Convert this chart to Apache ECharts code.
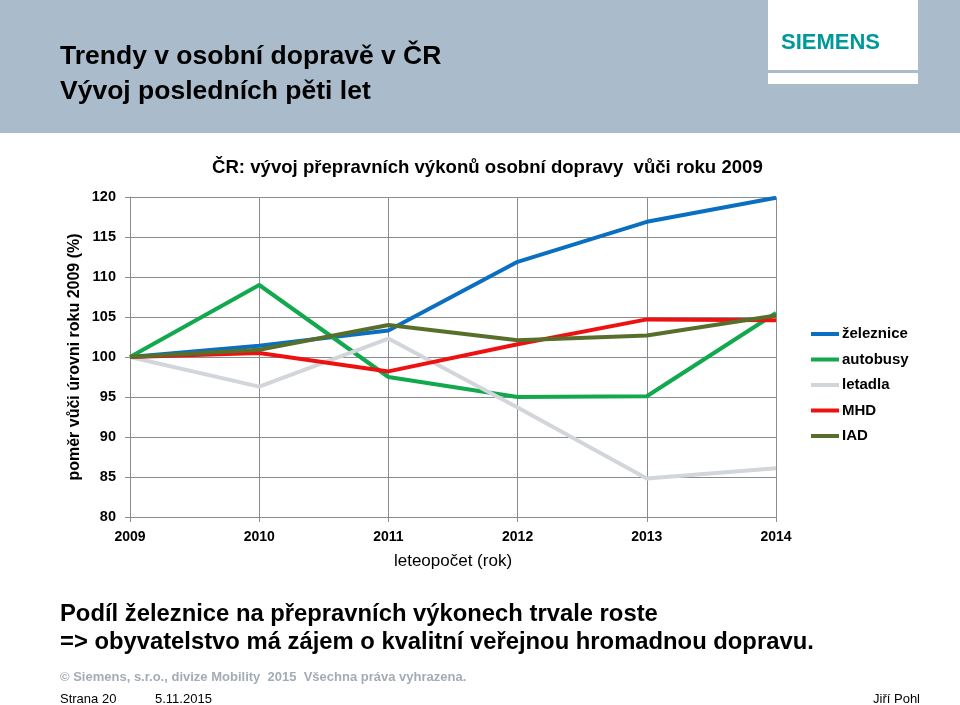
<!DOCTYPE html>
<html>
<head>
<meta charset="utf-8">
<script src="https://cdn.jsdelivr.net/npm/echarts@6/dist/echarts.min.js"></script>
<style>
html,body{margin:0;padding:0;background:#fff;}
#c{width:960px;height:705px;}
</style>
</head>
<body>
<div id="c"></div>
<script>
var years = ['2009','2010','2011','2012','2013','2014'];
var zeleznice = [100, 101.4, 103.3, 111.9, 116.9, 119.9];
var autobusy  = [100, 109.0, 97.5, 95.0, 95.1, 105.5];
var letadla   = [100, 96.3, 102.3, 93.7, 84.8, 86.1];
var mhd       = [100, 100.5, 98.2, 101.6, 104.7, 104.6];
var iad       = [100, 100.9, 104.0, 102.1, 102.7, 105.2];
var seriesNames = ['železnice','autobusy','letadla','MHD','IAD'];
var seriesColors = ['#0a6fc0','#12a84e','#d2d6db','#ee1111','#586f2c'];
var seriesData = [zeleznice, autobusy, letadla, mhd, iad];

var chart = echarts.init(document.getElementById('c'), null, {renderer:'canvas'});
var F = 'Liberation Sans, Arial, sans-serif';
var series = seriesNames.map(function(n,i){
  return {
    name:n, type:'line', data:seriesData[i], symbol:'none',
    lineStyle:{width:4, color:seriesColors[i]}, itemStyle:{color:seriesColors[i]},
    z: 2+i
  };
});
chart.setOption({
  animation:false,
  backgroundColor:'#ffffff',
  textStyle:{fontFamily:F},
  grid:{left:130, right:184, top:197, bottom:188},
  xAxis:{
    type:'category', data:years, boundaryGap:false,
    axisLine:{lineStyle:{color:'#8c8c8c', width:1}},
    axisTick:{show:true, alignWithLabel:true, length:5, lineStyle:{color:'#8c8c8c'}},
    axisLabel:{color:'#000', fontSize:14, fontWeight:'bold', fontFamily:'Liberation Sans Narrow, Arial Narrow, sans-serif', margin:13},
    splitLine:{show:true, lineStyle:{color:'#8c8c8c', width:1}},
    name:'leteopočet (rok)', nameLocation:'middle', nameGap:36, nameMoveOverlap:false,
    nameTextStyle:{color:'#000', fontSize:17, fontFamily:F}
  },
  yAxis:{
    type:'value', min:80, max:120, interval:5,
    axisLine:{show:true, lineStyle:{color:'#8c8c8c', width:1}},
    axisTick:{show:true, length:5, lineStyle:{color:'#8c8c8c'}},
    axisLabel:{color:'#000', fontSize:14.5, fontWeight:'bold', fontFamily:F, margin:14},
    splitLine:{show:true, lineStyle:{color:'#8c8c8c', width:1}},
    name:'poměr vůči úrovni roku 2009 (%)', nameLocation:'middle', nameGap:47, nameMoveOverlap:false,
    nameRotate:90,
    nameTextStyle:{color:'#000', fontSize:16, fontWeight:'bold', fontFamily:F}
  },
  legend:{
    orient:'vertical', left:806, top:320, itemWidth:28, itemHeight:4, itemGap:7.5,
    icon:'rect',
    data:seriesNames,
    textStyle:{color:'#000', fontSize:15, fontWeight:'bold', fontFamily:F, lineHeight:18, padding:[0,0,0,-2]}
  },
  graphic:[
    {type:'rect', left:0, top:0, shape:{width:960, height:133}, style:{fill:'#aabccb'}, silent:true},
    {type:'rect', left:768, top:0, shape:{width:150, height:70}, style:{fill:'#ffffff'}, silent:true},
    {type:'rect', left:768, top:73, shape:{width:150, height:11}, style:{fill:'#ffffff'}, silent:true},
    {type:'text', left:781, top:32, style:{text:'SIEMENS', fill:'#009999', font:'bold 22px ' + F}},
    {type:'text', left:60, top:43, style:{text:'Trendy v osobní dopravě v ČR', fill:'#000', font:'bold 26.5px ' + F}},
    {type:'text', left:60, top:78, style:{text:'Vývoj posledních pěti let', fill:'#000', font:'bold 26.5px ' + F}},
    {type:'text', left:212, top:158, style:{text:'ČR: vývoj přepravních výkonů osobní dopravy  vůči roku 2009', fill:'#000', font:'bold 18.6px ' + F}},
    {type:'text', left:60, top:602, style:{text:'Podíl železnice na přepravních výkonech trvale roste', fill:'#000', font:'bold 23.8px ' + F}},
    {type:'text', left:60, top:630, style:{text:'=> obyvatelstvo má zájem o kvalitní veřejnou hromadnou dopravu.', fill:'#000', font:'bold 23.8px ' + F}},
    {type:'text', left:60, top:671, style:{text:'© Siemens, s.r.o., divize Mobility  2015  Všechna práva vyhrazena.', fill:'#a3acb5', font:'bold 13px ' + F}},
    {type:'text', left:60, top:693, style:{text:'Strana 20', fill:'#000', font:'13px ' + F}},
    {type:'text', left:155, top:693, style:{text:'5.11.2015', fill:'#000', font:'13px ' + F}},
    {type:'text', right:40, top:693, style:{text:'Jiří Pohl', fill:'#000', font:'13px ' + F}}
  ],
  series: series
});
</script>
</body>
</html>
